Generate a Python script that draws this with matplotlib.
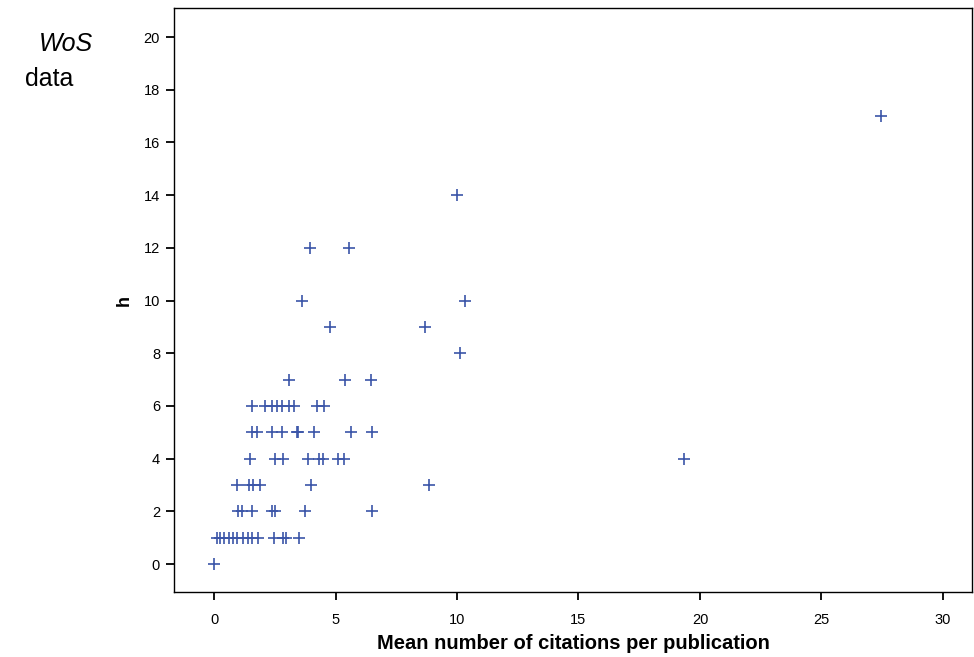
import matplotlib
matplotlib.use('Agg')
import matplotlib.pyplot as plt

plt.rcParams['font.family'] = ['Liberation Sans', 'DejaVu Sans']

# mean citations per publication (x) and h-index (y), WoS data
cites = [0.0,
         0.11, 0.25, 0.42, 0.63, 0.79, 0.96, 1.21, 1.39, 1.58, 1.82, 2.47, 2.83, 2.95, 3.49,
         0.97, 1.14, 1.55, 2.40, 2.51, 3.73, 6.49,
         0.95, 1.45, 1.62, 1.89, 3.98, 8.85,
         1.48, 2.51, 2.85, 3.88, 4.33, 4.47, 5.09, 5.36, 19.34,
         1.55, 1.75, 2.39, 2.81, 3.40, 3.47, 4.11, 5.65, 6.52,
         1.55, 2.10, 2.40, 2.60, 2.79, 3.10, 3.28, 4.22, 4.54,
         3.07, 5.38, 6.46,
         10.14,
         4.77, 8.68,
         3.64, 10.33,
         3.96, 5.57,
         10.0,
         27.45]
h = [0,
     1, 1, 1, 1, 1, 1, 1, 1, 1, 1, 1, 1, 1, 1,
     2, 2, 2, 2, 2, 2, 2,
     3, 3, 3, 3, 3, 3,
     4, 4, 4, 4, 4, 4, 4, 4, 4,
     5, 5, 5, 5, 5, 5, 5, 5, 5,
     6, 6, 6, 6, 6, 6, 6, 6, 6,
     7, 7, 7,
     8,
     9, 9,
     10, 10,
     12, 12,
     14,
     17]

fig = plt.figure(figsize=(9.74, 6.57), dpi=100)
ax = fig.add_axes([0.1786, 0.0989, 0.8194, 0.8889])

ax.scatter(cites, h, marker='+', s=70, color='#3b55a8', linewidths=1.2)

ax.set_xlim(-1.65, 31.2)
ax.set_ylim(-1.06, 21.1)
ax.set_xticks([0, 5, 10, 15, 20, 25, 30])
ax.set_yticks(range(0, 21, 2))
ax.tick_params(direction='out', length=6, width=1.3, labelsize=10.5)
ax.tick_params(axis='x', pad=9)
ax.tick_params(axis='y', pad=4)
for s in ax.spines.values():
    s.set_linewidth(1.0)

ax.set_xlabel('Mean number of citations per publication', fontsize=14.5, fontweight='bold', labelpad=5)
ax.set_ylabel('h', fontsize=13, fontweight='bold', labelpad=8)

fig.text(0.040, 0.922, 'WoS', fontsize=18, style='italic')
fig.text(0.026, 0.869, 'data', fontsize=18)

fig.savefig('out.png', dpi=100)
